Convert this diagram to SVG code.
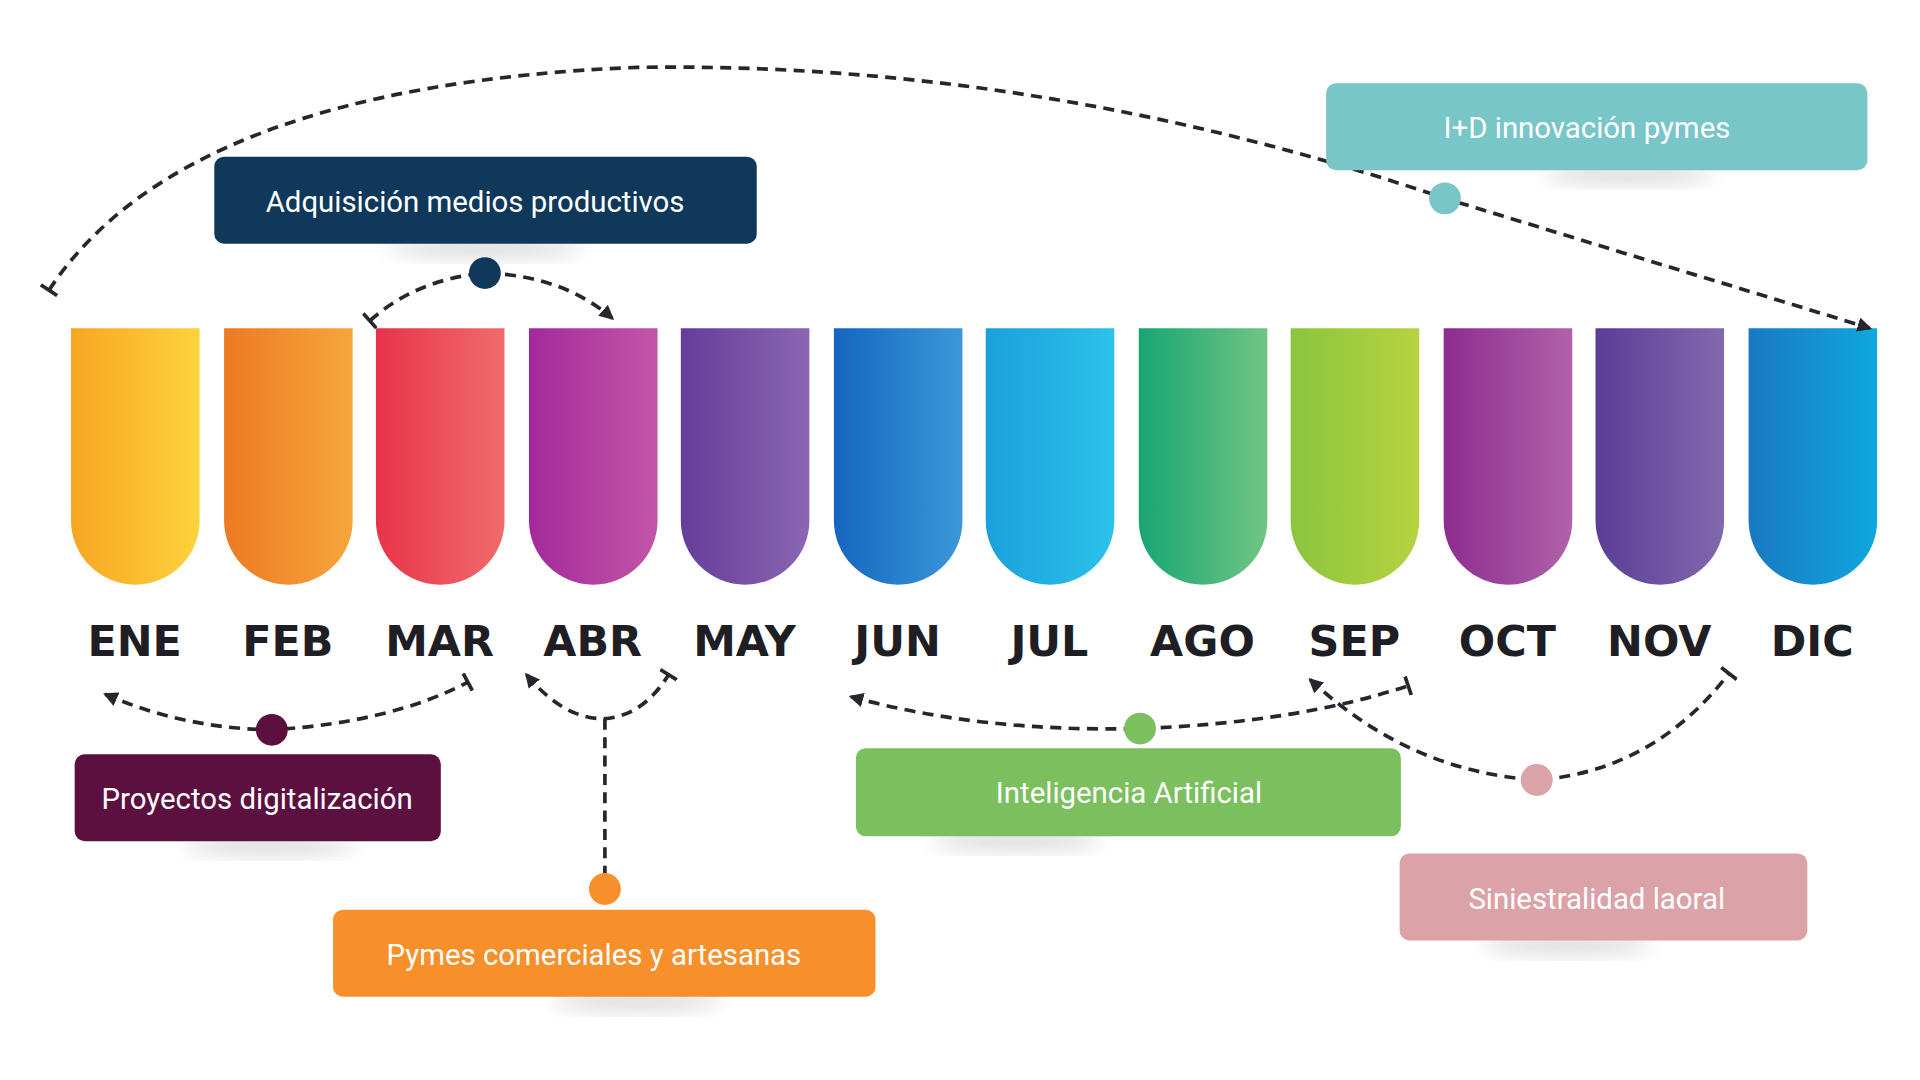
<svg xmlns="http://www.w3.org/2000/svg" width="1920" height="1080" viewBox="0 0 1920 1080">
<defs>
<style>
.m{font-family:"DejaVu Sans","Liberation Sans",sans-serif;font-weight:bold;font-size:35px;fill:#1e1e24;text-anchor:middle}
.t{font-family:Roboto,"Liberation Sans",sans-serif;font-size:24px;fill:#fff;text-anchor:middle}
.c{fill:none;stroke:#26262e;stroke-width:3;stroke-dasharray:9 6}
.sh{fill:#000;opacity:.18;filter:url(#bl)}
</style>
<filter id="bl" x="-50%" y="-50%" width="200%" height="200%"><feGaussianBlur stdDeviation="8"/></filter>
<marker id="ar" viewBox="0 0 12 12" refX="10" refY="6" markerWidth="12" markerHeight="12" markerUnits="userSpaceOnUse" orient="auto-start-reverse"><path d="M0,0 L12,6 L0,12 z" fill="#26262e"/></marker>
<marker id="tk" viewBox="0 0 4 16" refX="2" refY="8" markerWidth="4" markerHeight="16" markerUnits="userSpaceOnUse" orient="auto"><rect x="0.5" y="0" width="3" height="16" fill="#26262e"/></marker>
<linearGradient id="g0"><stop offset="0" stop-color="#f8a624"/><stop offset="1" stop-color="#fdd33c"/></linearGradient>
<linearGradient id="g1"><stop offset="0" stop-color="#ed7a22"/><stop offset="1" stop-color="#f6a63e"/></linearGradient>
<linearGradient id="g2"><stop offset="0" stop-color="#e8334a"/><stop offset="1" stop-color="#f06c6c"/></linearGradient>
<linearGradient id="g3"><stop offset="0" stop-color="#a3299b"/><stop offset="1" stop-color="#c256a8"/></linearGradient>
<linearGradient id="g4"><stop offset="0" stop-color="#663c99"/><stop offset="1" stop-color="#8b66b2"/></linearGradient>
<linearGradient id="g5"><stop offset="0" stop-color="#1565c0"/><stop offset="1" stop-color="#3b98d8"/></linearGradient>
<linearGradient id="g6"><stop offset="0" stop-color="#1aa0dc"/><stop offset="1" stop-color="#2cc2ea"/></linearGradient>
<linearGradient id="g7"><stop offset="0" stop-color="#18a573"/><stop offset="1" stop-color="#72c584"/></linearGradient>
<linearGradient id="g8"><stop offset="0" stop-color="#8bc53f"/><stop offset="1" stop-color="#b7d33f"/></linearGradient>
<linearGradient id="g9"><stop offset="0" stop-color="#8d2c8f"/><stop offset="1" stop-color="#b062aa"/></linearGradient>
<linearGradient id="g10"><stop offset="0" stop-color="#5b3d96"/><stop offset="1" stop-color="#8268ae"/></linearGradient>
<linearGradient id="g11"><stop offset="0" stop-color="#1a78c2"/><stop offset="1" stop-color="#0fa8df"/></linearGradient>
</defs>
<rect width="1920" height="1080" fill="#fff"/>
<g transform="scale(1.2245)">
<g id="months">
<path d="M58,268h105v157a52.5,52.5 0 0 1 -105,0z" fill="url(#g0)"/>
<path d="M183,268h105v157a52.5,52.5 0 0 1 -105,0z" fill="url(#g1)"/>
<path d="M307,268h105v157a52.5,52.5 0 0 1 -105,0z" fill="url(#g2)"/>
<path d="M432,268h105v157a52.5,52.5 0 0 1 -105,0z" fill="url(#g3)"/>
<path d="M556,268h105v157a52.5,52.5 0 0 1 -105,0z" fill="url(#g4)"/>
<path d="M681,268h105v157a52.5,52.5 0 0 1 -105,0z" fill="url(#g5)"/>
<path d="M805,268h105v157a52.5,52.5 0 0 1 -105,0z" fill="url(#g6)"/>
<path d="M930,268h105v157a52.5,52.5 0 0 1 -105,0z" fill="url(#g7)"/>
<path d="M1054,268h105v157a52.5,52.5 0 0 1 -105,0z" fill="url(#g8)"/>
<path d="M1179,268h105v157a52.5,52.5 0 0 1 -105,0z" fill="url(#g9)"/>
<path d="M1303,268h105v157a52.5,52.5 0 0 1 -105,0z" fill="url(#g10)"/>
<path d="M1428,268h105v157a52.5,52.5 0 0 1 -105,0z" fill="url(#g11)"/>
<text class="m" x="110" y="536">ENE</text>
<text class="m" x="235" y="536">FEB</text>
<text class="m" x="359" y="536">MAR</text>
<text class="m" x="484" y="536">ABR</text>
<text class="m" x="608" y="536">MAY</text>
<text class="m" x="733" y="536">JUN</text>
<text class="m" x="857" y="536">JUL</text>
<text class="m" x="982" y="536">AGO</text>
<text class="m" x="1106" y="536">SEP</text>
<text class="m" x="1231" y="536">OCT</text>
<text class="m" x="1355" y="536">NOV</text>
<text class="m" x="1480" y="536">DIC</text>
</g>
<g id="connectors">
<path class="c" d="M40,237 Q150,70 520,55 Q850,50 1180,162 L1527,268" marker-start="url(#tk)" marker-end="url(#ar)"/>
<path class="c" d="M302,262 Q340,228 396,223 Q460,225 500,260" marker-start="url(#tk)" marker-end="url(#ar)"/>
<path class="c" d="M86,567 Q150,595 222,596 Q320,590 382,557" marker-start="url(#ar)" marker-end="url(#tk)"/>
<path class="c" d="M430,551 Q460,587 493,587 Q525,585 546,551" marker-start="url(#ar)" marker-end="url(#tk)"/>
<path class="c" d="M494,587 V726"/>
<path class="c" d="M695,569 Q800,598 931,595 Q1060,590 1150,560" marker-start="url(#ar)" marker-end="url(#tk)"/>
<path class="c" d="M1070,555 Q1150,630 1255,637 Q1350,630 1412,550" marker-start="url(#ar)" marker-end="url(#tk)"/>
</g>
<g id="adq">
<ellipse class="sh" cx="396" cy="203" rx="80" ry="6"/>
<rect x="175" y="128" width="443" height="71" rx="8" fill="#10385a"/>
<text class="t" x="388" y="173">Adquisición medios productivos</text>
<circle cx="396" cy="223" r="13" fill="#10385a"/>
</g>
<g id="imasd">
<ellipse class="sh" cx="1330" cy="143" rx="70" ry="6"/>
<rect x="1083" y="68" width="442" height="71" rx="8" fill="#79c6c8"/>
<text class="t" x="1296" y="113">I+D innovación pymes</text>
<circle cx="1180" cy="162" r="13" fill="#79c6c8"/>
</g>
<g id="proy">
<ellipse class="sh" cx="220" cy="691" rx="70" ry="6"/>
<rect x="61" y="616" width="299" height="71" rx="8" fill="#5c1040"/>
<text class="t" x="210" y="661">Proyectos digitalización</text>
<circle cx="222" cy="596" r="13" fill="#5c1040"/>
</g>
<g id="pymes">
<ellipse class="sh" cx="520" cy="818" rx="70" ry="6"/>
<rect x="272" y="743" width="443" height="71" rx="8" fill="#f7902a"/>
<text class="t" x="485" y="788">Pymes comerciales y artesanas</text>
<circle cx="494" cy="726" r="13" fill="#f7902a"/>
</g>
<g id="ia">
<ellipse class="sh" cx="830" cy="687" rx="70" ry="6"/>
<rect x="699" y="611" width="445" height="72" rx="8" fill="#7bbf5e"/>
<text class="t" x="922" y="656">Inteligencia Artificial</text>
<circle cx="931" cy="595" r="13" fill="#7bbf5e"/>
</g>
<g id="sini">
<ellipse class="sh" cx="1280" cy="772" rx="70" ry="6"/>
<rect x="1143" y="697" width="333" height="71" rx="8" fill="#dba2a8"/>
<text class="t" x="1304" y="742">Siniestralidad laoral</text>
<circle cx="1255" cy="637" r="13" fill="#dba2a8"/>
</g>
</g>
</svg>
